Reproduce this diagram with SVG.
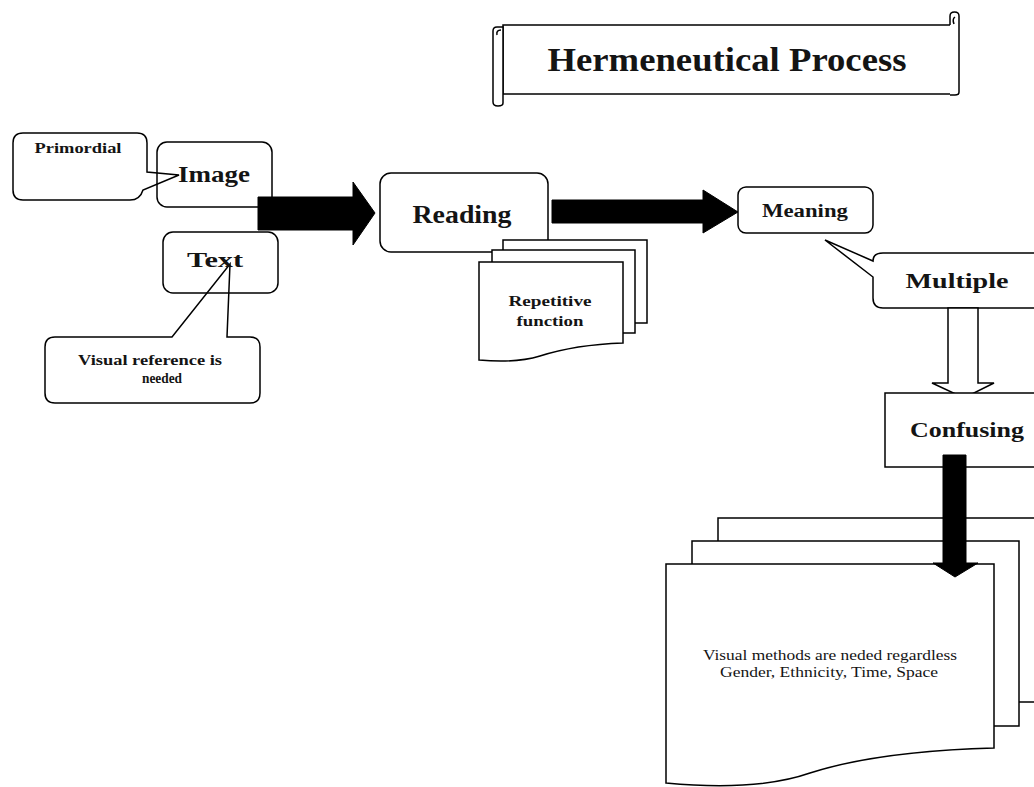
<svg xmlns="http://www.w3.org/2000/svg" width="1034" height="787" viewBox="0 0 1034 787">
<style>
.s{fill:#fff;stroke:#000;stroke-width:1.5}
.n{fill:none;stroke:#000;stroke-width:1.5}
.b{fill:#000;stroke:#000;stroke-width:1}
.t{font-family:"Liberation Serif","DejaVu Serif",serif;font-weight:bold;fill:#141414;text-anchor:middle}
.r{font-family:"Liberation Serif","DejaVu Serif",serif;fill:#141414;text-anchor:middle}
</style>
<rect width="1034" height="787" fill="#fff"/>

<g id="title">
  <rect class="s" x="503" y="25" width="455" height="69"/>
  <path class="s" d="M950,25 L950,16 Q950,12 954.5,12 Q959,12 959,16 L959,92 Q959,95 955,95 L950,95"/>
  <path class="n" d="M954,24 Q952,19 955,17" stroke-width="1"/>
  <path class="s" d="M493,31 Q493,27 497,27 L503,27 L503,103 Q503,106 498,106 Q493,106 493,102 Z"/>
  <path class="n" d="M497,35 Q496,30 501,30" stroke-width="1"/>
  <text class="t" x="727" y="71" font-size="34" textLength="359" lengthAdjust="spacingAndGlyphs">Hermeneutical Process</text>
</g>

<g id="primordial">
  <path class="s" d="M23,133 L137,133 Q147,133 147,143 L147,172 L179,175 L143,190 Q140,200 130,200 L23,200 Q13,200 13,190 L13,143 Q13,133 23,133 Z"/>
  <text class="t" x="78" y="153" font-size="14" textLength="87" lengthAdjust="spacingAndGlyphs">Primordial</text>
</g>

<g id="image">
  <rect class="n" x="157" y="142" width="115" height="65" rx="10"/>
  <text class="t" x="214" y="182" font-size="24" textLength="72" lengthAdjust="spacingAndGlyphs">Image</text>
</g>

<g id="visual-reference">
  <path class="s" d="M55,337 L172,337 L230,264 L227,337 L250,337 Q260,337 260,347 L260,393 Q260,403 250,403 L55,403 Q45,403 45,393 L45,347 Q45,337 55,337 Z"/>
  <text class="t" x="150" y="365" font-size="14" textLength="144" lengthAdjust="spacingAndGlyphs">Visual reference is</text>
  <text class="t" x="162" y="383" font-size="14" textLength="40" lengthAdjust="spacingAndGlyphs">needed</text>
</g>

<g id="text">
  <rect class="n" x="163" y="232" width="115" height="61" rx="10"/>
  <text class="t" x="215" y="267" font-size="22" textLength="56" lengthAdjust="spacingAndGlyphs">Text</text>
</g>

<g id="reading">
  <rect class="s" x="380" y="173" width="168" height="79" rx="11"/>
  <text class="t" x="462" y="223" font-size="26" textLength="99" lengthAdjust="spacingAndGlyphs">Reading</text>
</g>

<g id="repetitive-function">
  <path class="s" d="M503,240 L647,240 L647,323 L503,323 Z"/>
  <path class="s" d="M492,250 L635,250 L635,333 L492,333 Z"/>
  <path class="s" d="M479,262 L623,262 L623,343 C595,344 565,348 540,356 C520,362 500,362 479,360 Z"/>
  <text class="t" x="550" y="306" font-size="15" textLength="83" lengthAdjust="spacingAndGlyphs">Repetitive</text>
  <text class="t" x="550" y="326" font-size="15" textLength="67" lengthAdjust="spacingAndGlyphs">function</text>
</g>

<g id="meaning">
  <rect class="s" x="738" y="187" width="135" height="46" rx="8"/>
  <text class="t" x="805" y="217" font-size="18" textLength="86" lengthAdjust="spacingAndGlyphs">Meaning</text>
</g>

<g id="multiple">
  <path class="s" d="M883,253 L1045,253 L1045,308 L883,308 Q873,308 873,298 L873,277 L825,240 L873,261 Q873,253 883,253 Z"/>
  <text class="t" x="957" y="288" font-size="22" textLength="103" lengthAdjust="spacingAndGlyphs">Multiple</text>
</g>

<g id="connectors">
  <polygon class="b" points="258,197 353,197 353,182 375,213 353,245 353,230 258,230"/>
  <polygon class="b" points="552,200 703,200 703,190 738,212 703,233 703,223 552,223"/>
  <polygon class="s" points="948,308 978,308 978,383 994,383 964,398 932,383 948,383"/>
</g>

<g id="confusing">
  <rect class="s" x="885" y="393" width="160" height="74"/>
  <text class="t" x="967" y="437" font-size="22" textLength="114" lengthAdjust="spacingAndGlyphs">Confusing</text>
</g>

<g id="visual-methods">
  <path class="s" d="M718,518 L1045,518 L1045,702 L718,702 Z"/>
  <path class="s" d="M692,541 L1019,541 L1019,726 L692,726 Z"/>
  <path class="s" d="M666,564 L994,564 L994,748 C920,750 860,757 810,773 C770,787 720,788 666,783 Z"/>
  <text class="r" x="830" y="660" font-size="14" textLength="254" lengthAdjust="spacingAndGlyphs">Visual methods are neded regardless</text>
  <text class="r" x="829" y="677" font-size="14" textLength="218" lengthAdjust="spacingAndGlyphs">Gender, Ethnicity, Time, Space</text>
</g>

<g id="connectors-2">
  <polygon class="b" points="943,455 966,455 966,563 978,563 955,577 933,563 943,563"/>
</g>
</svg>
